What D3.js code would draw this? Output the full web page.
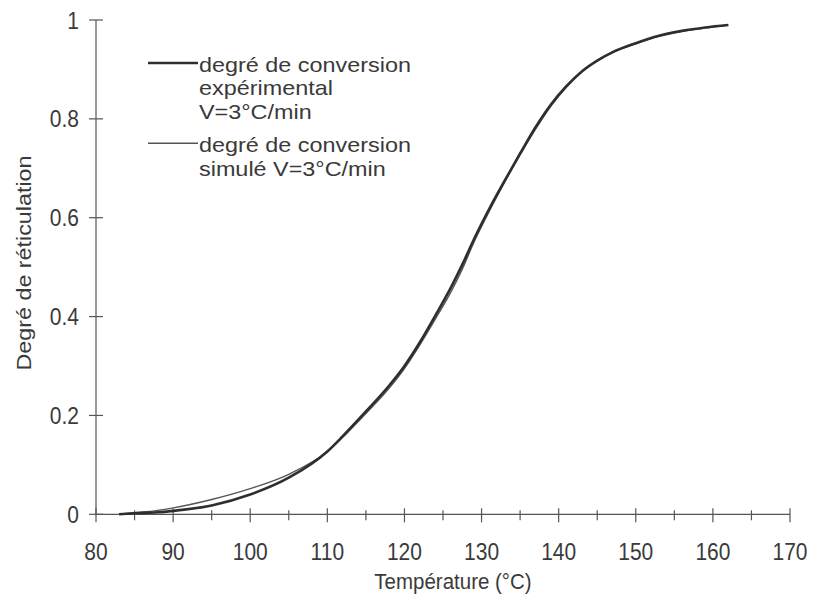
<!DOCTYPE html>
<html><head><meta charset="utf-8">
<script src="https://cdn.jsdelivr.net/npm/d3@7"></script>
<style>body{margin:0;background:#fff}</style>
</head><body>
<svg id="c" width="813" height="608"></svg>
<script>
const tempExp = [83,85,88,90,95,100,105,110,112,115,118,120,122,124,126,127.5,129,131,133,135,137,139,141,143,145,147,150,153,156,159,162];
const convExp = [0,0.002,0.004,0.007,0.018,0.040,0.074,0.127,0.158,0.208,0.26,0.30,0.348,0.402,0.458,0.505,0.556,0.618,0.675,0.73,0.783,0.829,0.866,0.896,0.918,0.935,0.953,0.968,0.978,0.985,0.99];
const tempSim = [83,85,88,90,95,100,105,110,112,115,118,120,122,124,126,127.5,129,131,133,135,137,139,141,143,145,147,150,153,156,159,162];
const convSim = [0,0.003,0.008,0.013,0.03,0.052,0.081,0.127,0.156,0.204,0.255,0.295,0.343,0.395,0.449,0.496,0.55,0.613,0.672,0.727,0.779,0.826,0.864,0.895,0.917,0.934,0.952,0.967,0.977,0.984,0.99];
const xTicks = [80,90,100,110,120,130,140,150,160,170];
const xMinor = [85,95,105,115,125,135,145,155,165];
const yTicks = [0,0.2,0.4,0.6,0.8,1];
const yTickLabels = ["0","0.2","0.4","0.6","0.8","1"];
const legendExp = ["degré de conversion","expérimental","V=3°C/min"];
const legendSim = ["degré de conversion","simulé V=3°C/min"];
const xTitle = "Température (°C)";
const yTitle = "Degré de réticulation";

const svg = d3.select("#c");
const font = "'Liberation Sans', Arial, sans-serif";
const txt = "#3a3a3a";
const sy = 1.11; // vertical stretch of the scanned glyphs
const x = d3.scaleLinear().domain([80,170]).range([96,790]);
const y = d3.scaleLinear().domain([0,1]).range([514.3,20]);

function label(g, px, py, s, size, anchor, sx, syy){
  return g.append("text").attr("transform",`translate(${px},${py}) scale(${sx||1},${syy||sy})`)
    .attr("text-anchor",anchor).attr("font-family",font).attr("font-size",size).attr("fill",txt).text(s);
}

// X axis
const gx = svg.append("g");
gx.append("line").attr("x1",x(80)).attr("x2",x(170)).attr("y1",y(0)).attr("y2",y(0)).attr("stroke","#555").attr("stroke-width",1.2);
gx.selectAll(".maj").data(xTicks).join("line").attr("x1",d=>x(d)).attr("x2",d=>x(d)).attr("y1",y(0)-6).attr("y2",y(0)+8).attr("stroke","#555").attr("stroke-width",1.2);
gx.selectAll(".min").data(xMinor).join("line").attr("class","min").attr("x1",d=>x(d)).attr("x2",d=>x(d)).attr("y1",y(0)-4).attr("y2",y(0)+6).attr("stroke","#555").attr("stroke-width",1.2);
xTicks.forEach(d=>label(gx, x(d), 560, String(d), 21, "middle"));

// Y axis
const gy = svg.append("g");
gy.append("line").attr("x1",x(80)).attr("x2",x(80)).attr("y1",y(0)).attr("y2",y(1)).attr("stroke","#555").attr("stroke-width",1.2);
gy.selectAll(".t").data(yTicks).join("line").attr("x1",89).attr("x2",103).attr("y1",d=>y(d)).attr("y2",d=>y(d)).attr("stroke","#555").attr("stroke-width",1.2);
yTicks.forEach((d,i)=>label(gy, 79, y(d)+8.5, yTickLabels[i], 21, "end"));

// titles
label(svg, 453, 589, xTitle, 20.5, "middle");
svg.append("text").attr("transform","translate(31,263) rotate(-90) scale(1.11,1)").attr("text-anchor","middle").attr("font-family",font).attr("font-size",21).attr("fill",txt).text(yTitle);

// curves
const line = d3.line().curve(d3.curveMonotoneX);
svg.append("path").attr("d",line(tempSim.map((t,i)=>[x(t),y(convSim[i])]))).attr("fill","none").attr("stroke","#555").attr("stroke-width",1.4);
svg.append("path").attr("d",line(tempExp.map((t,i)=>[x(t),y(convExp[i])]))).attr("fill","none").attr("stroke","#2e2e2e").attr("stroke-width",2.6);

// legend
const lg = svg.append("g");
lg.append("line").attr("x1",148).attr("x2",198).attr("y1",63).attr("y2",63).attr("stroke","#2e2e2e").attr("stroke-width",2.6);
legendExp.forEach((d,i)=>label(lg, 199, 71.5+i*23.8, d, 20.6, "start", 1.136, 1));
lg.append("line").attr("x1",148).attr("x2",198).attr("y1",143.3).attr("y2",143.3).attr("stroke","#555").attr("stroke-width",1.4);
legendSim.forEach((d,i)=>label(lg, 199, 151.7+i*23.8, d, 20.6, "start", 1.136, 1));
</script>
</body></html>
